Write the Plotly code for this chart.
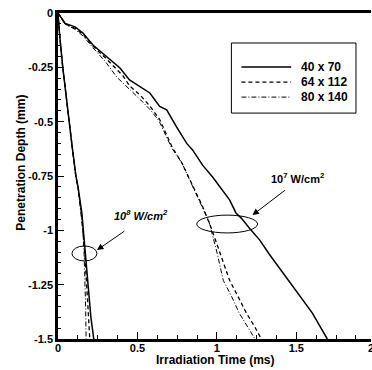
import plotly.graph_objects as go

# Penetration depth vs irradiation time for three grid resolutions
grid_names = ["40 x 70", "64 x 112", "80 x 140"]

# 10^8 W/cm^2 intensity
t8_40 = [0, 0.01, 0.03, 0.05, 0.069, 0.09, 0.113, 0.126, 0.15, 0.16, 0.172, 0.19, 0.207, 0.225]
d8_40 = [0, -0.1, -0.25, -0.38, -0.5, -0.62, -0.75, -0.8, -0.92, -1.0, -1.12, -1.275, -1.4, -1.5]
t8_64 = [0, 0.01, 0.03, 0.05, 0.069, 0.09, 0.112, 0.126, 0.148, 0.158, 0.168, 0.178, 0.19, 0.2]
d8_64 = [0, -0.1, -0.25, -0.38, -0.5, -0.62, -0.75, -0.8, -0.92, -1.0, -1.1, -1.22, -1.36, -1.5]
t8_80 = [0, 0.01, 0.03, 0.05, 0.068, 0.089, 0.111, 0.125, 0.146, 0.156, 0.164, 0.17, 0.174, 0.177]
d8_80 = [0, -0.1, -0.25, -0.38, -0.5, -0.62, -0.75, -0.8, -0.92, -1.0, -1.1, -1.22, -1.36, -1.5]

# 10^7 W/cm^2 intensity
t7_40 = [0, 0.045, 0.107, 0.157, 0.22, 0.307, 0.39, 0.45, 0.52, 0.578, 0.64, 0.684, 0.747, 0.81,
         0.847, 0.91, 0.973, 1.03, 1.08, 1.12, 1.155, 1.205, 1.27, 1.33, 1.39, 1.5, 1.6, 1.695]
d7_40 = [0, -0.048, -0.064, -0.092, -0.147, -0.2, -0.253, -0.308, -0.34, -0.368, -0.43, -0.446, -0.525, -0.6,
         -0.63, -0.7, -0.755, -0.81, -0.86, -0.92, -0.945, -0.99, -1.045, -1.11, -1.17, -1.275, -1.38, -1.5]
t7_64 = [0, 0.045, 0.107, 0.16, 0.22, 0.31, 0.41, 0.45, 0.52, 0.58, 0.64, 0.72, 0.78, 0.83,
         0.91, 0.965, 1.02, 1.08, 1.13, 1.185, 1.235, 1.28]
d7_64 = [0, -0.05, -0.07, -0.1, -0.152, -0.215, -0.29, -0.335, -0.38, -0.43, -0.49, -0.62, -0.69, -0.77,
         -0.89, -0.99, -1.11, -1.23, -1.3, -1.38, -1.44, -1.5]
t7_80 = [0, 0.045, 0.107, 0.16, 0.22, 0.3, 0.37, 0.45, 0.52, 0.58, 0.635, 0.715, 0.78, 0.83,
         0.905, 0.95, 1.0, 1.04, 1.09, 1.14, 1.19, 1.24]
d7_80 = [0, -0.052, -0.075, -0.107, -0.16, -0.225, -0.295, -0.35, -0.4, -0.445, -0.495, -0.62, -0.69, -0.77,
         -0.89, -0.96, -1.1, -1.23, -1.3, -1.38, -1.44, -1.5]

x_ticks = [0, 0.5, 1, 1.5]
x_tick_text = ["0", "0.5", "1", "1.5"]
y_ticks = [0, -0.25, -0.5, -0.75, -1, -1.25, -1.5]
y_tick_text = ["0", "-0.25", "-0.5", "-0.75", "-1", "-1.25", "-1.5"]

FONT = "Liberation Sans, Arial, sans-serif"
dashes = ["solid", "4px,3px", "5px,2px,1px,2px"]
widths = [1.5, 1.3, 1.0]

fig = go.Figure()
series8 = [(t8_40, d8_40), (t8_64, d8_64), (t8_80, d8_80)]
series7 = [(t7_40, d7_40), (t7_64, d7_64), (t7_80, d7_80)]
for i, name in enumerate(grid_names):
    for t, d in (series7[i], series8[i]):
        fig.add_trace(go.Scatter(x=t, y=d, mode="lines", name=name, showlegend=False,
                                 line=dict(color="black", width=widths[i], dash=dashes[i])))

# Boxed key in the upper right
fig.add_shape(type="rect", xref="paper", yref="paper", x0=0.554, x1=0.952, y0=0.693, y1=0.908,
              line=dict(color="black", width=1), fillcolor="white", layer="above")
key_rows = [0.834, 0.788, 0.742]
for i, name in enumerate(grid_names):
    fig.add_shape(type="line", xref="paper", yref="paper", x0=0.586, x1=0.745,
                  y0=key_rows[i], y1=key_rows[i], layer="above",
                  line=dict(color="black", width=widths[i], dash=dashes[i]))
    fig.add_annotation(x=0.771, y=key_rows[i], xref="paper", yref="paper", showarrow=False,
                       text=name, xanchor="left", yanchor="middle",
                       font=dict(family=FONT, size=12, color="black", weight="bold"))

# Ellipses marking the two intensity groups
fig.add_shape(type="circle", xref="x", yref="y", x0=0.873, x1=1.256, y0=-1.012, y1=-0.93,
              line=dict(color="black", width=1))
fig.add_shape(type="circle", xref="x", yref="y", x0=0.088, x1=0.245, y0=-1.141, y1=-1.072,
              line=dict(color="black", width=1))

# Arrows pointing at the ellipses
fig.add_annotation(x=1.224, y=-0.93, xref="x", yref="y", ax=34, ay=-26, text="",
                   showarrow=True, arrowhead=2, arrowsize=1.3, arrowwidth=1, arrowcolor="black")
fig.add_annotation(x=0.245, y=-1.091, xref="x", yref="y", ax=29, ay=-20, text="",
                   showarrow=True, arrowhead=2, arrowsize=1.3, arrowwidth=1, arrowcolor="black")

fig.add_annotation(x=1.507, y=-0.76, xref="x", yref="y", showarrow=False,
                   text="10<sup>7</sup> W/cm<sup>2</sup>",
                   font=dict(family=FONT, size=11, color="black", weight="bold"))
fig.add_annotation(x=0.52, y=-0.93, xref="x", yref="y", showarrow=False,
                   text="<i>10<sup>8</sup> W/cm<sup>2</sup></i>",
                   font=dict(family=FONT, size=11, color="black", weight="bold"))

# Axis titles
fig.add_annotation(x=0.5, y=-0.093, xref="paper", yref="paper", showarrow=False,
                   text="Irradiation Time (ms)", yanchor="bottom",
                   font=dict(family=FONT, size=12, color="black", weight="bold"))
fig.add_annotation(x=-0.148, y=0.54, xref="paper", yref="paper", showarrow=False,
                   text="Penetration Depth (mm)", textangle=-90,
                   font=dict(family=FONT, size=12, color="black", weight="bold"))
# Tick label at the clipped right end of the time axis
fig.add_annotation(x=1.016, y=-0.004, xref="paper", yref="paper", showarrow=False,
                   text="2", yanchor="top",
                   font=dict(family=FONT, size=11, color="black", weight="bold"))

fig.update_xaxes(range=[0, 1.97], tickvals=x_ticks, ticktext=x_tick_text,
                 ticks="inside", ticklen=7, tickwidth=1.3, tickcolor="black",
                 ticklabelstandoff=-3,
                 minor=dict(dtick=0.125, ticks="inside", ticklen=4, tickwidth=1, tickcolor="black"),
                 showline=True, linewidth=2.5, linecolor="black", mirror=True,
                 showgrid=False, zeroline=False,
                 tickfont=dict(family=FONT, size=11, color="black", weight="bold"))
fig.update_yaxes(range=[-1.5, 0], tickvals=y_ticks, ticktext=y_tick_text,
                 ticks="inside", ticklen=6, tickwidth=1.3, tickcolor="black",
                 minor=dict(dtick=0.05, ticks="inside", ticklen=3, tickwidth=1, tickcolor="black"),
                 showline=True, linewidth=2.5, linecolor="black", mirror=False,
                 showgrid=False, zeroline=False,
                 tickfont=dict(family=FONT, size=11, color="black", weight="bold"))

fig.update_layout(
    width=372, height=370,
    margin=dict(l=58, r=1, t=13, b=31),
    paper_bgcolor="white", plot_bgcolor="white",
    showlegend=False,
)

fig.write_html("out.html")
